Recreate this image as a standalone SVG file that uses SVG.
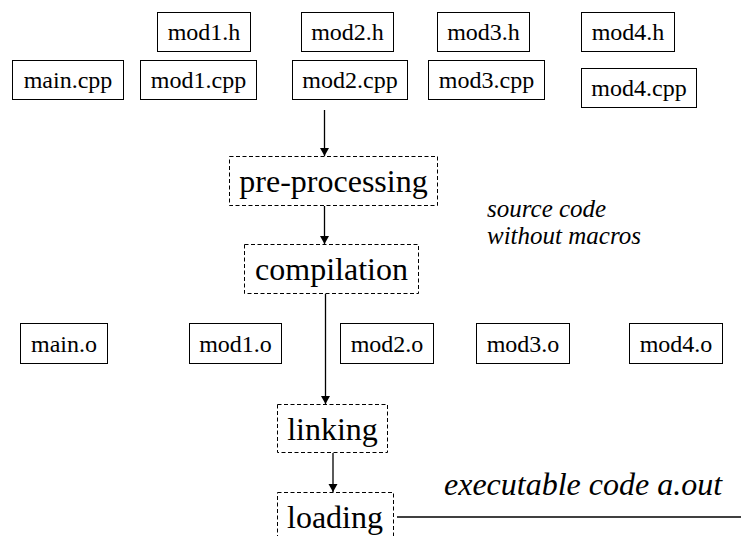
<svg xmlns="http://www.w3.org/2000/svg" width="741" height="536" viewBox="0 0 741 536">
<defs>
<style>
.box{fill:#fff;stroke:#000;stroke-width:1}
.dash{fill:#fff;stroke:#000;stroke-width:1;stroke-dasharray:4 2.5}
.t{font-size:24px;fill:#000;text-anchor:middle}
.tl{font-size:32px;fill:#000;text-anchor:middle}
.it{font-style:italic;fill:#000}
.c{stroke:#000;stroke-width:1.3;fill:none}
</style>
<marker id="ah" markerWidth="8" markerHeight="10" refX="8" refY="5" orient="auto" markerUnits="userSpaceOnUse" viewBox="0 0 8 10">
<path d="M0,0.5 L8,5 L0,9.5 z" fill="#000"/>
</marker>
</defs>
<rect width="741" height="536" fill="#fff"/>
<g font-family="Liberation Serif, Times New Roman, serif">
<g id="mod1_h"><rect class="box" x="157.5" y="12.5" width="93" height="39"/><text class="t" x="204" y="40">mod1.h</text></g>
<g id="mod2_h"><rect class="box" x="301.5" y="12.5" width="92" height="39"/><text class="t" x="347.5" y="40">mod2.h</text></g>
<g id="mod3_h"><rect class="box" x="437.5" y="12.5" width="92" height="39"/><text class="t" x="483.5" y="40">mod3.h</text></g>
<g id="mod4_h"><rect class="box" x="581.5" y="12.5" width="93" height="39"/><text class="t" x="628" y="40">mod4.h</text></g>
<g id="main_cpp"><rect class="box" x="12.5" y="60.5" width="111" height="39"/><text class="t" x="68" y="88">main.cpp</text></g>
<g id="mod1_cpp"><rect class="box" x="140.5" y="60.5" width="116" height="39"/><text class="t" x="198.5" y="88">mod1.cpp</text></g>
<g id="mod2_cpp"><rect class="box" x="292.5" y="60.5" width="115" height="39"/><text class="t" x="350" y="88">mod2.cpp</text></g>
<g id="mod3_cpp"><rect class="box" x="428.5" y="60.5" width="116" height="39"/><text class="t" x="486.5" y="88">mod3.cpp</text></g>
<g id="mod4_cpp"><rect class="box" x="581.5" y="68.5" width="115" height="39"/><text class="t" x="639" y="96">mod4.cpp</text></g>
<g id="preprocessing"><rect class="dash" x="229.5" y="156.5" width="208" height="49"/><text class="tl" x="333.5" y="192">pre-processing</text></g>
<g id="compilation"><rect class="dash" x="244.5" y="244.5" width="174" height="49"/><text class="tl" x="331.5" y="280">compilation</text></g>
<g id="main_o"><rect class="box" x="20.5" y="323.5" width="87" height="40"/><text class="t" x="64" y="352">main.o</text></g>
<g id="mod1_o"><rect class="box" x="189.5" y="323.5" width="92" height="40"/><text class="t" x="235.5" y="352">mod1.o</text></g>
<g id="mod2_o"><rect class="box" x="340.5" y="323.5" width="93" height="40"/><text class="t" x="387" y="352">mod2.o</text></g>
<g id="mod3_o"><rect class="box" x="476.5" y="323.5" width="93" height="40"/><text class="t" x="523" y="352">mod3.o</text></g>
<g id="mod4_o"><rect class="box" x="629.5" y="323.5" width="93" height="40"/><text class="t" x="676" y="352">mod4.o</text></g>
<g id="linking"><rect class="dash" x="277.5" y="404.5" width="110" height="48"/><text class="tl" x="332.5" y="440">linking</text></g>
<g id="loading"><rect class="dash" x="277.5" y="492.5" width="116" height="60"/><text class="tl" x="335" y="528">loading</text></g>
<g id="labels">
<text class="it" x="487" y="217" font-size="25">source code</text>
<text class="it" x="487" y="244" font-size="25">without macros</text>
<text class="it" x="444" y="495" font-size="32">executable code a.out</text>
</g>
</g>
<g id="connectors">
<line class="c" x1="324.5" y1="110" x2="324.5" y2="156" marker-end="url(#ah)"/>
<line class="c" x1="324.5" y1="206" x2="324.5" y2="244" marker-end="url(#ah)"/>
<line class="c" x1="325.5" y1="294" x2="325.5" y2="404" marker-end="url(#ah)"/>
<line class="c" x1="333" y1="453" x2="333" y2="492" marker-end="url(#ah)"/>
<line class="c" x1="397" y1="517" x2="741" y2="517"/>
</g>
</svg>
